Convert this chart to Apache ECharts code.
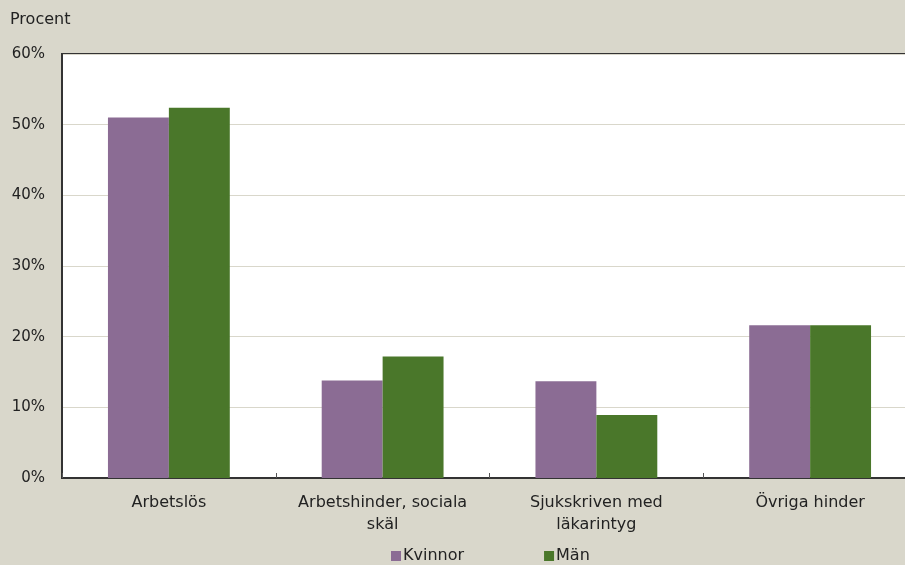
<!DOCTYPE html>
<html>
<head>
<meta charset="utf-8">
<script src="https://cdn.jsdelivr.net/npm/echarts@6/dist/echarts.min.js"></script>
<style>
  html, body { margin: 0; padding: 0; background: #d9d7cb; }
  #chart { width: 905px; height: 565px; }
</style>
</head>
<body>
<div id="chart"></div>
<script>
// categories and values (percent)
const categories = ["Arbetslös", "Arbetshinder, sociala\nskäl", "Sjukskriven med\nläkarintyg", "Övriga hinder"];
const kvinnor = [51.0, 13.8, 13.7, 21.6];
const man = [52.4, 17.2, 8.9, 21.6];
const seriesNames = ["Kvinnor", "Män"];
const yTicks = [0, 10, 20, 30, 40, 50, 60];

const font = "DejaVu Sans";
const chart = echarts.init(document.getElementById("chart"));

chart.setOption({
  backgroundColor: "#d9d7cb",
  animation: false,
  textStyle: { fontFamily: font },
  graphic: [
    {
      type: "text",
      left: 10,
      top: 12,
      style: { text: "Procent", fontSize: 16, fontFamily: font, fill: "#222" },
    },
  ],
  grid: {
    left: 62,
    top: 54,
    width: 855,
    height: 424,
    outerBoundsMode: "none",
    show: true,
    backgroundColor: "#ffffff",
    borderColor: "#333",
    borderWidth: 2,
  },
  legend: {
    data: seriesNames,
    top: 543,
    left: 386,
    itemWidth: 10,
    itemHeight: 10,
    itemGap: 80,
    icon: "rect",
    textStyle: { fontSize: 16, color: "#222", fontFamily: font, padding: [0, 0, 0, -3] },
  },
  xAxis: {
    type: "category",
    data: categories,
    axisLine: { lineStyle: { color: "#333", width: 2 } },
    axisTick: { show: true, inside: true, length: 5, lineStyle: { color: "#555" } },
    axisLabel: {
      color: "#222",
      fontSize: 16,
      fontFamily: font,
      margin: 14,
      lineHeight: 22,
      interval: 0,
    },
  },
  yAxis: {
    type: "value",
    min: yTicks[0],
    max: yTicks[yTicks.length - 1],
    interval: 10,
    axisLine: { show: true, lineStyle: { color: "#333", width: 2 } },
    axisTick: { show: false },
    splitLine: { lineStyle: { color: "#d9d7cb", width: 1 } },
    axisLabel: {
      color: "#222",
      fontSize: 15,
      fontFamily: font,
      margin: 17,
      formatter: (v) => v + "%",
    },
  },
  series: [
    {
      name: seriesNames[0],
      type: "bar",
      data: kvinnor,
      barGap: "0%",
      barCategoryGap: "43%",
      itemStyle: { color: "#8b6c94" },
    },
    {
      name: seriesNames[1],
      type: "bar",
      data: man,
      itemStyle: { color: "#4a772a" },
    },
  ],
});
</script>
</body>
</html>
